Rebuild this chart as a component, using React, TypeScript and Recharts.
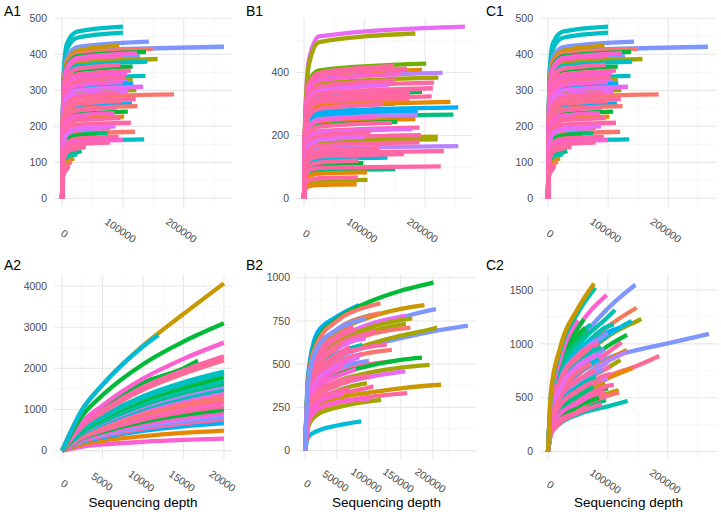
import { CartesianGrid, Line, LineChart, XAxis, YAxis } from 'recharts';

type Row = (number | null)[];
type Pt = { x: number; y: number };

// colours (ggplot hue-ish)
const SALMON = '#F8766D';
const CORAL = '#F37B59';
const ORANGE = '#E58700';
const GOLD = '#C99800';
const OLIVE = '#A3A500';
const LIME = '#6BB100';
const GREEN = '#00BA38';
const SPRING = '#00BF7D';
const TEAL = '#00C0AF';
const CYAN = '#00BCD8';
const CYAN2 = '#00BFC4';
const SKY = '#00B0F6';
const LAVENDER = '#7F96FF';
const PURPLE = '#B983FF';
const VIOLET = '#E76BF3';
const MAGENTA = '#FD61D1';
const PINK = '#FF67A4';
const ROSE = '#FF6C91';

const FONT = '"Liberation Sans", Arial, sans-serif';

// depth grids the rows are read at; each row = [end depth, values at grid depths..., value at end]
const topDepths = [2000, 8000, 25000];
const a2Depths = [2500, 5000, 10000, 15000];
const wideDepths = [5000, 20000, 50000, 100000, 150000, 200000];

// A1 / C1
const a1Rows: Row[] = [
  [100000, 330, 430, 463, 477],
  [100000, 318, 414, 446, 460],
  [143000, 300, 390, 420, 435],
  [266000, 290, 378, 408, 421],
  [94000, 295, 380, 410, 424],
  [149000, 288, 372, 402, 415],
  [138000, 282, 366, 395, 407],
  [128000, 275, 354, 382, 394],
  [157000, 270, 348, 375, 387],
  [140000, 265, 342, 368, 380],
  [116000, 255, 330, 355, 366],
  [137000, 238, 306, 330, 340],
  [116000, 232, 298, 321, 331],
  [109000, 226, 292, 314, 324],
  [117000, 223, 287, 309, 319],
  [122000, 210, 271, 292, 301],
  [184000, 202, 260, 280, 289],
  [115000, 185, 238, 256, 264],
  [124000, 179, 230, 248, 256],
  [108000, 169, 217, 234, 241],
  [102000, 159, 204, 220, 227],
  [79000, 137, 176, 190, 196],
  [71000, 133, 171, 184, 190],
  [120000, 130, 167, 179, 185],
  [75000, 128, 164, 176, 181],
  [57000, 125, 160, 173, 178],
  [135000, 115, 148, 159, 164],
  [32000, 92, 119, 128, 132],
  [25000, 86, 111, 121, 123],
  [20000, 78, 100, null, 111],
  [16000, 71, 92, null, 102],
  [100000, 276, 357, 384, 396],
  [123000, 280, 362, 390, 403],
  [96000, 259, 334, 360, 371],
  [113000, 248, 320, 344, 355],
  [107000, 242, 312, 336, 347],
  [104000, 235, 303, 326, 336],
  [100000, 226, 292, 314, 323],
  [133000, 217, 279, 300, 310],
  [109000, 207, 266, 287, 296],
  [92000, 203, 261, 281, 290],
  [121000, 193, 248, 268, 276],
  [98000, 189, 243, 262, 270],
  [90000, 176, 227, 244, 252],
  [86000, 166, 213, 230, 237],
  [96000, 156, 201, 217, 223],
  [113000, 147, 189, 204, 210],
  [88000, 140, 180, 194, 200],
  [93000, 120, 154, 166, 171],
  [100000, 113, 146, 157, 162],
  [79000, 108, 140, 150, 155],
  [39000, 100, 129, 139, 143],
  [11000, 64, 82, null, 91],
];
const a1Colors = [
  CYAN2, CYAN2, LAVENDER, LAVENDER, GOLD, SALMON, GREEN, LAVENDER, OLIVE, CYAN2,
  GREEN, CYAN2, OLIVE, PURPLE, SKY, OLIVE, SALMON, SKY, SALMON, GREEN,
  ORANGE, GOLD, PURPLE, SALMON, SPRING, GREEN, CYAN2, SPRING, TEAL, GOLD,
  SALMON, PINK, MAGENTA, PINK, PINK, MAGENTA, PINK, MAGENTA, VIOLET, VIOLET,
  PINK, PINK, ROSE, PINK, MAGENTA, PINK, PINK, VIOLET, PINK, MAGENTA,
  PINK, PINK, PINK,
];

// B1
const b1Rows: Row[] = [
  [266000, 260, 440, 515, 546],
  [184000, 250, 425, 497, 524],
  [202000, 257, 372, 407, 428],
  [195000, 245, 355, 388, 408],
  [229000, 239, 347, 379, 399],
  [222000, 230, 334, 365, 384],
  [195000, 203, 295, 322, 339],
  [190000, 207, 300, 328, 345],
  [150000, 180, 262, 286, 301],
  [174000, 190, 275, 300, 316],
  [242000, 184, 267, 292, 307],
  [255000, 173, 251, 275, 289],
  [188000, 167, 242, 264, 278],
  [247000, 160, 231, 253, 266],
  [188000, 159, 230, 252, 265],
  [184000, 151, 219, 239, 252],
  [154000, 146, 211, 231, 243],
  [221000, 118, 171, 187, 196],
  [221000, 113, 164, 179, 188],
  [255000, 100, 144, 158, 166],
  [138000, 78, 113, 124, 130],
  [98000, 67, 97, 106, 112],
  [151000, 56, 81, 88, 93],
  [104000, 50, 72, 79, 83],
  [105000, 35, 51, 56, 59],
  [87000, 27, 39, 43, 45],
  [149000, 252, 365, 399, 420],
  [170000, 247, 358, 391, 412],
  [160000, 237, 344, 375, 395],
  [150000, 225, 326, 356, 375],
  [215000, 221, 320, 350, 368],
  [140000, 216, 313, 342, 360],
  [213000, 210, 305, 333, 350],
  [175000, 201, 291, 318, 335],
  [211000, 194, 282, 308, 324],
  [130000, 180, 261, 285, 300],
  [120000, 156, 226, 247, 260],
  [145000, 144, 209, 228, 240],
  [191000, 135, 196, 214, 225],
  [179000, 132, 191, 209, 220],
  [110000, 126, 183, 200, 210],
  [193000, 121, 175, 191, 201],
  [100000, 117, 170, 185, 195],
  [191000, 107, 155, 169, 178],
  [125000, 96, 139, 152, 160],
  [231000, 90, 131, 143, 150],
  [165000, 85, 123, 134, 141],
  [90000, 72, 104, 114, 120],
  [226000, 61, 89, 97, 102],
  [89000, 40, 58, 64, 67],
];
const b1Colors = [
  VIOLET, OLIVE, LIME, ORANGE, PURPLE, OLIVE, GREEN, CYAN, TEAL, SALMON,
  ORANGE, SKY, SKY, SPRING, PURPLE, ORANGE, GREEN, OLIVE, OLIVE, PURPLE,
  CYAN, GREEN, SPRING, ORANGE, OLIVE, ORANGE, PINK, PINK, MAGENTA, PINK,
  PINK, VIOLET, PINK, PINK, PINK, PINK, MAGENTA, PINK, PINK, VIOLET,
  PINK, PINK, VIOLET, PINK, PINK, PINK, PINK, PINK, PINK, PINK,
];

// A2
const a2Rows: Row[] = [
  [20000, 100, 150, 215, 260, 290],
  [20000, 160, 240, 350, 430, 485],
  [20000, 210, 320, 480, 590, 670],
  [20000, 230, 350, 535, 660, 760],
  [20000, 250, 380, 580, 715, 810],
  [20000, 265, 400, 615, 760, 870],
  [20000, 280, 425, 650, 805, 915],
  [20000, 300, 455, 700, 870, 990],
  [20000, 320, 490, 755, 940, 1075],
  [20000, 350, 530, 825, 1030, 1180],
  [20000, 360, 550, 855, 1070, 1230],
  [20000, 370, 570, 890, 1110, 1275],
  [20000, 400, 610, 950, 1190, 1375],
  [20000, 410, 630, 985, 1235, 1430],
  [20000, 420, 650, 1020, 1280, 1480],
  [20000, 440, 680, 1070, 1350, 1560],
  [20000, 455, 705, 1110, 1400, 1620],
  [20000, 470, 730, 1150, 1450, 1680],
  [20000, 500, 770, 1220, 1530, 1780],
  [20000, 520, 810, 1280, 1610, 1875],
  [20000, 540, 840, 1320, 1660, 1920],
  [20000, 600, 930, 1480, 1870, 2200],
  [16800, 680, 1050, 1650, 2000, 2185],
  [20000, 620, 970, 1540, 1950, 2290],
  [20000, 700, 1100, 1750, 2230, 2625],
  [20000, 850, 1350, 2100, 2650, 3095],
  [20000, 1000, 1600, 2550, 3320, 4065],
  [11900, 1000, 1600, 2530, null, 2810],
];
const a2Colors = [
  MAGENTA, ORANGE, SKY, PINK, LAVENDER, PURPLE, MAGENTA, GREEN, PINK, MAGENTA,
  ROSE, SALMON, ROSE, VIOLET, TEAL, PURPLE, SPRING, TEAL, GREEN, TEAL,
  CYAN2, ROSE, GREEN, PINK, MAGENTA, GREEN, GOLD, CYAN,
];

// B2
const b2Rows: Row[] = [
  [85000, 450, 688, 775, null, null, null, 842],
  [88000, 80, 115, 145, null, null, null, 169],
  [201000, 430, 650, 760, 860, 925, 972, 973],
  [118000, 420, 630, 750, 835, null, null, 852],
  [187000, 360, 560, 680, 770, 820, null, 842],
  [205000, 345, 525, 630, 715, 770, 815, 819],
  [105000, 400, 590, 700, 780, null, null, 785],
  [118000, 390, 585, 700, 780, null, null, 796],
  [157000, 350, 530, 640, 730, 775, null, 781],
  [168000, 340, 520, 625, 710, 755, null, 765],
  [158000, 330, 500, 600, 685, 728, null, 733],
  [255000, 280, 440, 530, 605, 650, 690, 723],
  [207000, 290, 445, 540, 615, 665, 705, 712],
  [165000, 320, 490, 590, 670, 705, null, 712],
  [90000, 330, 480, 560, null, null, null, 612],
  [128000, 300, 450, 540, 600, null, null, 615],
  [136000, 280, 420, 505, 565, null, null, 583],
  [100000, 270, 390, 470, null, null, null, 519],
  [136000, 240, 370, 445, 500, null, null, 515],
  [183000, 230, 360, 435, 490, 525, null, 538],
  [195000, 210, 330, 400, 450, 480, null, 496],
  [157000, 200, 310, 375, 425, 455, null, 458],
  [107000, 180, 270, 320, 365, null, null, 371],
  [97000, 190, 285, 345, null, null, null, 390],
  [213000, 160, 250, 300, 335, 360, 378, 381],
  [160000, 150, 230, 275, 310, 330, null, 333],
  [119000, 140, 210, 250, 285, null, null, 294],
  [110000, 340, 510, 610, 680, null, null, 690],
  [95000, 330, 490, 590, null, null, null, 650],
  [60000, 320, 480, 600, null, null, null, 640],
  [70000, 300, 450, 555, null, null, null, 600],
  [90000, 290, 430, 510, null, null, null, 560],
  [85000, 270, 410, 490, null, null, null, 540],
  [65000, 255, 380, 470, null, null, null, 520],
  [80000, 250, 370, 430, null, null, null, 470],
  [100000, 230, 340, 400, null, null, null, 430],
  [75000, 215, 320, 380, null, null, null, 410],
  [70000, 200, 290, 340, null, null, null, 360],
  [60000, 190, 275, 320, null, null, null, 330],
  [100000, 160, 240, 280, null, null, null, 300],
  [80000, 360, 540, 650, null, null, null, 700],
  [75000, 380, 560, 660, null, null, null, 720],
  [95000, 400, 600, 700, null, null, null, 760],
];
const b2Colors = [
  SKY, CYAN, GREEN, SALMON, GOLD, LAVENDER, SPRING, CORAL, VIOLET, OLIVE,
  OLIVE, LAVENDER, OLIVE, SALMON, TEAL, PINK, SALMON, LAVENDER, PINK, GREEN,
  OLIVE, VIOLET, PINK, OLIVE, GOLD, PINK, OLIVE, PINK, VIOLET, ROSE,
  PINK, PINK, VIOLET, MAGENTA, MAGENTA, PINK, ROSE, PINK, MAGENTA, MAGENTA,
  PINK, PINK, LAVENDER,
];

// C2
const c2Rows: Row[] = [
  [146000, 380, 700, 1000, 1330, null, null, 1550],
  [98000, 470, 820, 1150, null, null, null, 1454],
  [112000, 420, 720, 980, 1250, null, null, 1315],
  [148000, 360, 640, 900, 1160, null, null, 1336],
  [156000, 340, 600, 830, 1070, 1215, null, 1231],
  [140000, 340, 600, 830, 1080, null, null, 1213],
  [60000, 470, 830, 1150, null, null, null, 1230],
  [72000, 440, 780, 1080, null, null, null, 1180],
  [132000, 330, 560, 760, 980, null, null, 1083],
  [269000, 330, 560, 720, 870, 945, 1005, 1093],
  [123000, 300, 520, 710, 920, null, null, 1015],
  [132000, 280, 480, 650, 850, null, null, 944],
  [132000, 280, 480, 650, 840, null, null, 928],
  [186000, 250, 420, 560, 700, 800, null, 888],
  [121000, 270, 460, 610, 780, null, null, 851],
  [141000, 240, 400, 530, 680, null, null, 773],
  [104000, 260, 440, 600, 780, null, null, 789],
  [100000, 230, 390, 530, null, null, null, 680],
  [96000, 220, 370, 500, null, null, null, 634],
  [100000, 210, 350, 470, null, null, null, 588],
  [118000, 200, 330, 440, 540, null, null, 572],
  [119000, 190, 320, 420, 520, null, null, 547],
  [97000, 180, 290, 380, null, null, null, 479],
  [133000, 170, 260, 345, 420, null, null, 470],
  [120000, 360, 620, 850, 1110, null, null, 1150],
  [110000, 380, 660, 900, 1165, null, null, 1180],
  [100000, 370, 640, 870, null, null, null, 1100],
  [62000, 460, 800, 1080, null, null, null, 1150],
  [68000, 430, 760, 1030, null, null, null, 1120],
  [75000, 400, 690, 935, null, null, null, 1060],
  [82000, 380, 655, 890, null, null, null, 1040],
  [88000, 350, 600, 820, null, null, null, 980],
  [70000, 370, 650, 870, null, null, null, 960],
  [95000, 330, 570, 770, null, null, null, 950],
  [78000, 335, 580, 780, null, null, null, 900],
  [85000, 310, 540, 730, null, null, null, 860],
  [100000, 280, 470, 640, null, null, null, 830],
  [72000, 310, 540, 740, null, null, null, 820],
  [92000, 270, 460, 630, null, null, null, 760],
  [105000, 240, 410, 550, 715, null, null, 720],
  [80000, 260, 440, 600, null, null, null, 700],
  [88000, 240, 400, 550, null, null, null, 660],
  [110000, 210, 350, 470, 610, null, null, 620],
  [76000, 225, 380, 515, null, null, null, 600],
  [95000, 195, 330, 450, null, null, null, 560],
  [100000, 180, 300, 410, null, null, null, 520],
  [85000, 180, 300, 420, null, null, null, 500],
  [90000, 165, 265, 360, null, null, null, 440],
  [50000, 480, 850, null, null, null, null, 1220],
  [85000, 380, 660, 900, null, null, null, 1000],
  [90000, 330, 580, 800, null, null, null, 900],
  [80000, 290, 500, 660, null, null, null, 750],
  [75000, 250, 430, 570, null, null, null, 650],
  [70000, 210, 350, 450, null, null, null, 520],
  [65000, 180, 290, 370, null, null, null, 420],
  [79000, 540, 930, 1290, null, null, null, 1522],
  [77000, 560, 960, 1330, null, null, null, 1562],
];
const c2Colors = [
  LAVENDER, MAGENTA, TEAL, CORAL, OLIVE, CYAN, GREEN, TEAL, GREEN, LAVENDER,
  PINK, ORANGE, PURPLE, ROSE, OLIVE, ORANGE, PINK, PURPLE, GOLD, GREEN,
  GOLD, SALMON, SPRING, TEAL, SKY, TEAL, LAVENDER, GREEN, SPRING, CYAN,
  PURPLE, TEAL, ROSE, LAVENDER, VIOLET, CYAN, PURPLE, ROSE, LAVENDER, PINK,
  TEAL, ROSE, PINK, SPRING, PINK, ROSE, GREEN, PINK, MAGENTA, PINK,
  VIOLET, PINK, PINK, MAGENTA, PINK, TEAL, GOLD,
];

// axis breaks
const depthTicksWide = [0, 100000, 200000];
const depthMinorWide = [50000, 150000, 250000];
const a1YTicks = [0, 100, 200, 300, 400, 500];
const a1YMinor = [50, 150, 250, 350, 450];
const b1YTicks = [0, 200, 400];
const b1YMinor = [100, 300, 500];
const a2XTicks = [0, 5000, 10000, 15000, 20000];
const a2XMinor = [2500, 7500, 12500, 17500];
const a2YTicks = [0, 1000, 2000, 3000, 4000];
const a2YMinor = [500, 1500, 2500, 3500];
const b2XTicks = [0, 50000, 100000, 150000, 200000];
const b2XMinor = [25000, 75000, 125000, 175000, 225000];
const b2YTicks = [0, 250, 500, 750, 1000];
const b2YMinor = [125, 375, 625, 875];
const c2YTicks = [0, 500, 1000, 1500];
const c2YMinor = [250, 750, 1250];

function toPoints(row: Row, depths: number[]): Pt[] {
  const end = row[0] as number;
  const last = row[row.length - 1] as number;
  const pts: Pt[] = [{ x: 0, y: 0 }];
  depths.forEach((d, i) => {
    const v = row[i + 1];
    if (d < end && v != null) pts.push({ x: d, y: v });
  });
  pts.push({ x: end, y: last });
  return pts;
}

const ANG = (35 * Math.PI) / 180;

function SlantTick(props: any) {
  const { x, y, payload, drop } = props;
  const label = String(payload.value);
  const shift = -0.2 * label.length * 5.8;
  const cx = x + 3.5 + shift * Math.cos(ANG);
  const cy = y + drop + shift * Math.sin(ANG);
  return (
    <text
      x={cx}
      y={cy}
      textAnchor="middle"
      dominantBaseline="central"
      transform={`rotate(35 ${cx} ${cy})`}
      fill="#4D4D4D"
      fontSize={10.5}
      fontFamily={FONT}
    >
      {label}
    </text>
  );
}

interface PanelProps {
  title: string;
  left: number;
  top: number;
  width: number;
  height: number;
  plotLeft: number;
  plotRight: number;
  plotTop: number;
  plotBottom: number;
  xDomain: [number, number];
  yDomain: [number, number];
  xTicks: number[];
  xMinor: number[];
  yTicks: number[];
  yMinor: number[];
  rows: Row[];
  depths: number[];
  colors: string[];
  drop: number;
  xTitle?: boolean;
}

function Panel(p: PanelProps) {
  return (
    <div style={{ position: 'absolute', left: p.left, top: p.top, width: p.width, height: p.height }}>
      <LineChart
        width={p.width}
        height={p.height}
        margin={{ top: p.plotTop, right: p.width - p.plotRight, bottom: 0, left: 0 }}
      >
        <CartesianGrid
          stroke="#F0F0F0"
          strokeWidth={0.6}
          horizontalValues={p.yMinor}
          verticalValues={p.xMinor}
        />
        <CartesianGrid
          stroke="#E8E8E8"
          strokeWidth={1.1}
          horizontalValues={p.yTicks}
          verticalValues={p.xTicks}
        />
        <XAxis
          type="number"
          dataKey="x"
          domain={p.xDomain}
          ticks={p.xTicks}
          interval={0}
          height={p.height - p.plotBottom}
          axisLine={false}
          tickLine={false}
          tickSize={0}
          tickMargin={0}
          allowDataOverflow
          tick={(t: any) => <SlantTick {...t} drop={p.drop} />}
        />
        <YAxis
          type="number"
          domain={p.yDomain}
          ticks={p.yTicks}
          interval={0}
          width={p.plotLeft}
          axisLine={false}
          tickLine={false}
          tickSize={0}
          tickMargin={7}
          allowDataOverflow
          tick={{ fill: '#4D4D4D', fontSize: 10.5, fontFamily: FONT }}
        />
        {p.rows.map((row, i) => (
          <Line
            key={i}
            data={toPoints(row, p.depths)}
            dataKey="y"
            type="monotone"
            stroke={p.colors[i]}
            strokeWidth={4.3}
            strokeLinejoin="round"
            dot={false}
            activeDot={false}
            isAnimationActive={false}
          />
        ))}
      </LineChart>
      <div
        style={{
          position: 'absolute',
          left: p.title[0] === 'A' ? 4 : 6,
          top: p.top === 0 ? 4 : 3,
          fontSize: 14,
          lineHeight: 1,
          fontFamily: FONT,
          color: '#000',
        }}
      >
        {p.title}
      </div>
      {p.xTitle && (
        <div
          style={{
            position: 'absolute',
            left: p.plotLeft,
            width: p.plotRight - p.plotLeft,
            top: 241,
            textAlign: 'center',
            fontSize: 13.5,
            lineHeight: 1,
            fontFamily: FONT,
            color: '#000',
          }}
        >
          Sequencing depth
        </div>
      )}
    </div>
  );
}

export default function App() {
  return (
    <div
      style={{
        position: 'absolute',
        left: 0,
        top: 0,
        width: 721,
        height: 514,
        background: '#fff',
        overflow: 'hidden',
      }}
    >
      <Panel
        title="A1" left={0} top={0} width={240} height={255}
        plotLeft={54} plotRight={232} plotTop={18} plotBottom={207}
        xDomain={[-13300, 279300]} yDomain={[-23.85, 500.85]}
        xTicks={depthTicksWide} xMinor={depthMinorWide} yTicks={a1YTicks} yMinor={a1YMinor}
        rows={a1Rows} depths={topDepths} colors={a1Colors} drop={27}
      />
      <Panel
        title="B1" left={240} top={0} width={240} height={255}
        plotLeft={56} plotRight={233} plotTop={18} plotBottom={207}
        xDomain={[-13300, 279300]} yDomain={[-27.3, 573.3]}
        xTicks={depthTicksWide} xMinor={depthMinorWide} yTicks={b1YTicks} yMinor={b1YMinor}
        rows={b1Rows} depths={topDepths} colors={b1Colors} drop={27}
      />
      <Panel
        title="C1" left={480} top={0} width={241} height={255}
        plotLeft={60} plotRight={236} plotTop={18} plotBottom={207}
        xDomain={[-13300, 279300]} yDomain={[-23.85, 500.85]}
        xTicks={depthTicksWide} xMinor={depthMinorWide} yTicks={a1YTicks} yMinor={a1YMinor}
        rows={a1Rows} depths={topDepths} colors={a1Colors} drop={27}
      />
      <Panel
        title="A2" left={0} top={255} width={240} height={259}
        plotLeft={54} plotRight={232} plotTop={20} plotBottom={204}
        xDomain={[-1000, 21000]} yDomain={[-203, 4268]}
        xTicks={a2XTicks} xMinor={a2XMinor} yTicks={a2YTicks} yMinor={a2YMinor}
        rows={a2Rows} depths={a2Depths} colors={a2Colors} drop={25} xTitle
      />
      <Panel
        title="B2" left={240} top={255} width={240} height={259}
        plotLeft={57} plotRight={236} plotTop={19} plotBottom={204}
        xDomain={[-12750, 267750]} yDomain={[-48.65, 1021.65]}
        xTicks={b2XTicks} xMinor={b2XMinor} yTicks={b2YTicks} yMinor={b2YMinor}
        rows={b2Rows} depths={wideDepths} colors={b2Colors} drop={25} xTitle
      />
      <Panel
        title="C2" left={480} top={255} width={241} height={259}
        plotLeft={60} plotRight={237} plotTop={20} plotBottom={205}
        xDomain={[-13450, 282450]} yDomain={[-78, 1640]}
        xTicks={depthTicksWide} xMinor={depthMinorWide} yTicks={c2YTicks} yMinor={c2YMinor}
        rows={c2Rows} depths={wideDepths} colors={c2Colors} drop={25} xTitle
      />
    </div>
  );
}
